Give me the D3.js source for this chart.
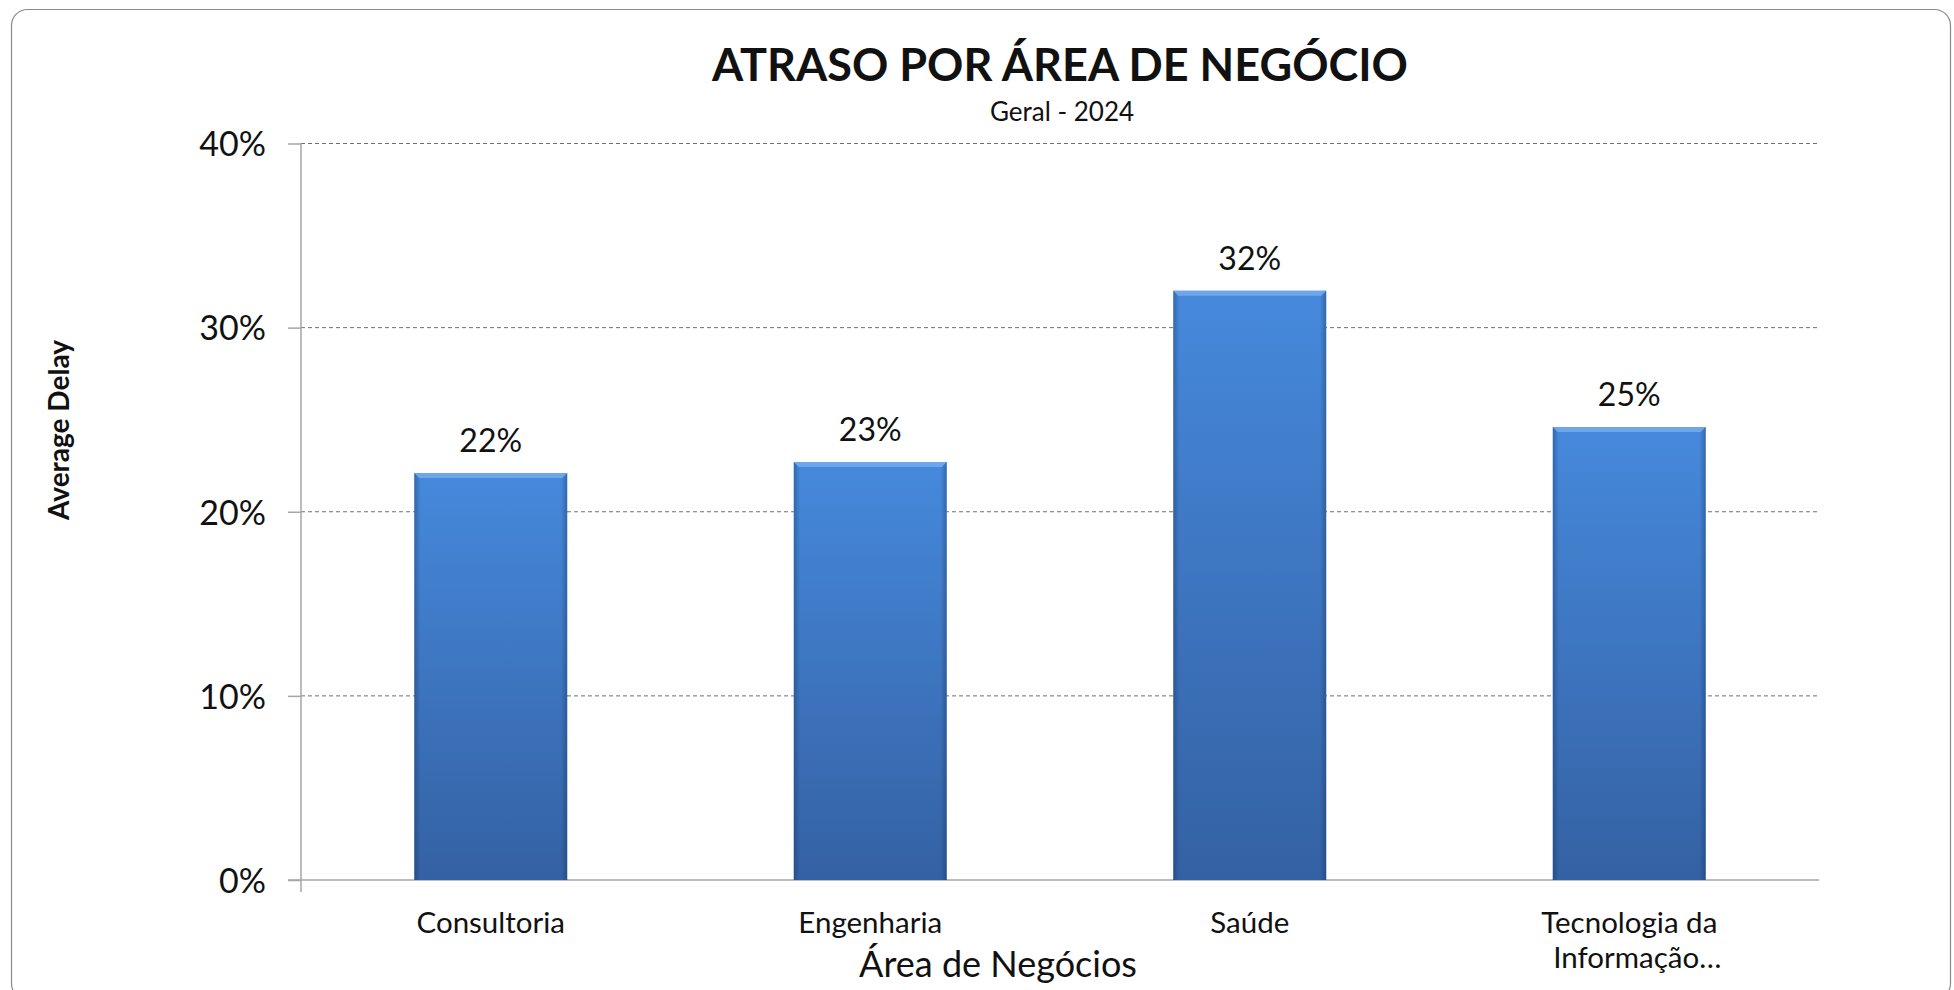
<!DOCTYPE html>
<html>
<head>
<meta charset="utf-8">
<title>Atraso por Área de Negócio</title>
<style>
body { margin: 0; background: #fff; }
text { font-family: Lato, "Open Sans", sans-serif; fill: #111; }
.grid line { stroke: #6f6f6f; stroke-width: 1px; stroke-dasharray: 4,3; }
.axis path, .axis line { stroke: #a6a6a6; stroke-width: 1.5px; }
</style>
</head>
<body>
<script src="https://cdn.jsdelivr.net/npm/d3@7"></script>
<script>

// data
var categories = ["Consultoria", "Engenharia", "Saúde", "Tecnologia da Informação…"];
var delays = [0.221, 0.227, 0.320, 0.246];
var yTicks = [0, 0.1, 0.2, 0.3, 0.4];

var title = "ATRASO POR ÁREA DE NEGÓCIO",
    subtitle = "Geral - 2024",
    xTitle = "Área de Negócios",
    yTitle = "Average Delay";

var width = 1954,
    height = 990;

var plot = {left: 301, right: 1819, top: 143.5, bottom: 880};

var svg = d3.select("body").append("svg")
    .attr("width", width)
    .attr("height", height);

// outer frame
svg.append("rect")
    .attr("x", 11.5).attr("y", 9.5)
    .attr("width", 1939).attr("height", 990)
    .attr("rx", 16)
    .attr("fill", "none")
    .attr("stroke", "#8a8a8a")
    .attr("stroke-width", 1.2);

var x = d3.scaleBand()
    .domain(categories)
    .range([plot.left, plot.right])
    .paddingInner(0.597)
    .paddingOuter(0.2985);

var y = d3.scaleLinear()
    .domain([0, 0.4])
    .range([plot.bottom, plot.top]);

// bar gradients
var defs = svg.append("defs");
var vg = defs.append("linearGradient")
    .attr("id", "barFill")
    .attr("x1", 0).attr("y1", 0).attr("x2", 0).attr("y2", 1);
vg.append("stop").attr("offset", "0%").attr("stop-color", "#4689dc");
vg.append("stop").attr("offset", "100%").attr("stop-color", "#3461a3");

var hg = defs.append("linearGradient")
    .attr("id", "barEdge")
    .attr("x1", 0).attr("y1", 0).attr("x2", 1).attr("y2", 0);
hg.append("stop").attr("offset", "0%").attr("stop-color", "#0d2a55").attr("stop-opacity", 0.35);
hg.append("stop").attr("offset", "4%").attr("stop-color", "#0d2a55").attr("stop-opacity", 0);
hg.append("stop").attr("offset", "96%").attr("stop-color", "#0d2a55").attr("stop-opacity", 0);
hg.append("stop").attr("offset", "100%").attr("stop-color", "#0d2a55").attr("stop-opacity", 0.35);

// gridlines
svg.append("g")
    .attr("class", "grid")
    .selectAll("line")
    .data(yTicks.filter(function(d) { return d > 0; }))
    .enter().append("line")
    .attr("x1", plot.left).attr("x2", plot.right)
    .attr("y1", function(d) { return y(d); })
    .attr("y2", function(d) { return y(d); });

// y axis
var yAxis = svg.append("g")
    .attr("class", "axis")
    .attr("transform", "translate(" + plot.left + ",0)")
    .call(d3.axisLeft(y).tickValues(yTicks).tickFormat(d3.format(".0%")).tickSize(13).tickPadding(22));
yAxis.select(".domain").attr("d", "M0," + plot.top + "V" + (plot.bottom + 12));
yAxis.selectAll("text")
    .style("font-size", "34px")
    .attr("fill", "#111")
    .attr("dy", "0.36em");

// bottom axis line
svg.append("line")
    .attr("x1", plot.left - 13).attr("x2", plot.right)
    .attr("y1", plot.bottom).attr("y2", plot.bottom)
    .attr("stroke", "#a6a6a6")
    .attr("stroke-width", 1.5);

// bars
var bars = svg.append("g")
    .selectAll("g")
    .data(categories)
    .enter().append("g");

bars.append("rect")
    .attr("x", function(d) { return x(d); })
    .attr("y", function(d, i) { return y(delays[i]); })
    .attr("width", x.bandwidth())
    .attr("height", function(d, i) { return y(0) - y(delays[i]); })
    .attr("fill", "url(#barFill)");

bars.append("rect")
    .attr("x", function(d) { return x(d); })
    .attr("y", function(d, i) { return y(delays[i]); })
    .attr("width", x.bandwidth())
    .attr("height", function(d, i) { return y(0) - y(delays[i]); })
    .attr("fill", "url(#barEdge)");

// bevel on the top edge
bars.append("path")
    .attr("d", function(d, i) {
      var x0 = x(d), x1 = x(d) + x.bandwidth(), t = y(delays[i]);
      return "M" + x0 + "," + t + "H" + x1 + "L" + (x1 - 5) + "," + (t + 5) + "H" + (x0 + 5) + "Z";
    })
    .attr("fill", "#6ea6ea");

// value labels
bars.append("text")
    .attr("x", function(d) { return x(d) + x.bandwidth() / 2; })
    .attr("y", function(d, i) { return y(delays[i]) - 21; })
    .attr("text-anchor", "middle")
    .style("font-size", "32px")
    .text(function(d, i) { return d3.format(".0%")(delays[i]); });

// category labels, wrapped
var catLabels = svg.append("g")
    .selectAll("text")
    .data(categories)
    .enter().append("text")
    .attr("x", function(d) { return x(d) + x.bandwidth() / 2; })
    .attr("y", 933)
    .attr("text-anchor", "middle")
    .style("font-size", "29.5px");

catLabels.each(function(d) {
  var el = d3.select(this);
  var words = d.split(" "), line = [];
  var tspan = el.append("tspan").attr("x", el.attr("x"));
  words.forEach(function(w) {
    line.push(w);
    tspan.text(line.join(" "));
    if (tspan.node().getComputedTextLength() > 240 && line.length > 1) {
      line.pop();
      tspan.text(line.join(" "));
      line = [w];
      tspan = el.append("tspan").attr("x", +el.attr("x") + 8).attr("dy", 35).text(w);
    }
  });
});

// titles
svg.append("text")
    .attr("x", 1060).attr("y", 81)
    .attr("text-anchor", "middle")
    .style("font-size", "45px")
    .style("font-weight", "bold")
    .text(title);

svg.append("text")
    .attr("x", 1062).attr("y", 121)
    .attr("text-anchor", "middle")
    .style("font-size", "26px")
    .text(subtitle);

svg.append("text")
    .attr("x", 998).attr("y", 977)
    .attr("text-anchor", "middle")
    .style("font-size", "36px")
    .text(xTitle);

svg.append("text")
    .attr("transform", "translate(69,430) rotate(-90)")
    .attr("text-anchor", "middle")
    .style("font-size", "28px")
    .style("font-weight", "bold")
    .text(yTitle);

</script>
</body>
</html>
